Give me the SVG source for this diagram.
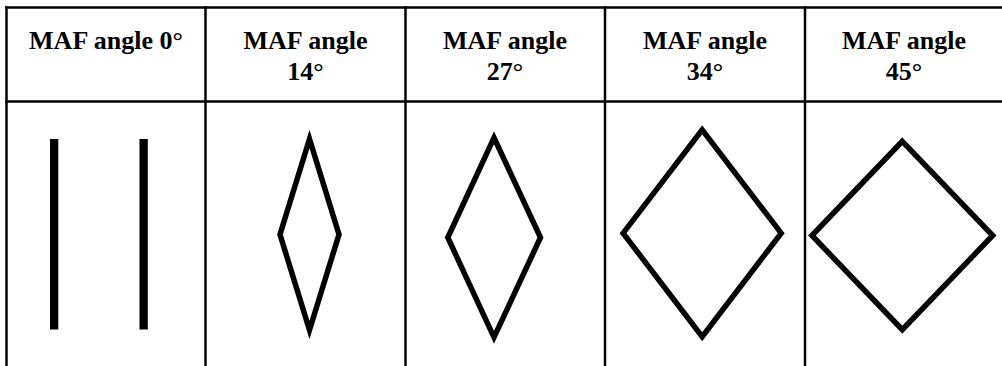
<svg xmlns="http://www.w3.org/2000/svg" width="1002" height="366" viewBox="0 0 1002 366">
  <style>
    .grid { stroke: #000; stroke-width: 2.5; fill: none; }
    .hdr { font-family: "Liberation Serif", "Times New Roman", serif; font-weight: bold; font-size: 26px; fill: #000; text-anchor: middle; }
    .shape { stroke: #000; stroke-width: 5.5; fill: none; stroke-linejoin: miter; stroke-miterlimit: 10; }
    .bar { fill: #000; }
  </style>
  <rect width="1002" height="366" fill="#fff"/>
  <g id="table-grid">
    <line class="grid" x1="5.3" y1="7.5" x2="1002" y2="7.5"/>
    <line class="grid" x1="5.3" y1="101.5" x2="1002" y2="101.5"/>
    <line class="grid" x1="6.5" y1="6.3" x2="6.5" y2="366"/>
    <line class="grid" x1="205.5" y1="6.3" x2="205.5" y2="366"/>
    <line class="grid" x1="405.5" y1="6.3" x2="405.5" y2="366"/>
    <line class="grid" x1="605" y1="6.3" x2="605" y2="366"/>
    <line class="grid" x1="805" y1="6.3" x2="805" y2="366"/>
  </g>
  <g id="col-0">
    <text class="hdr" x="106" y="49">MAF angle 0°</text>
    <rect class="bar" x="50" y="139" width="8.3" height="190.5"/>
    <rect class="bar" x="139.5" y="139" width="8.3" height="190.5"/>
  </g>
  <g id="col-14">
    <text class="hdr" x="305.5" y="49">MAF angle</text>
    <text class="hdr" x="305.5" y="80">14°</text>
    <polygon class="shape" points="309.5,139 339,234.5 309.5,330 280,234.5"/>
  </g>
  <g id="col-27">
    <text class="hdr" x="505" y="49">MAF angle</text>
    <text class="hdr" x="505" y="80">27°</text>
    <polygon class="shape" points="494,137.7 540.5,237.5 494,337.3 447.8,237.5"/>
  </g>
  <g id="col-34">
    <text class="hdr" x="705" y="49">MAF angle</text>
    <text class="hdr" x="705" y="80">34°</text>
    <polygon class="shape" points="702.2,129.8 781.2,233.2 702.2,336.6 623.1,233.2"/>
  </g>
  <g id="col-45">
    <text class="hdr" x="904" y="49">MAF angle</text>
    <text class="hdr" x="904" y="80">45°</text>
    <polygon class="shape" points="902.3,141.3 992.7,235.5 902.3,329.7 811.9,235.5"/>
  </g>
</svg>
